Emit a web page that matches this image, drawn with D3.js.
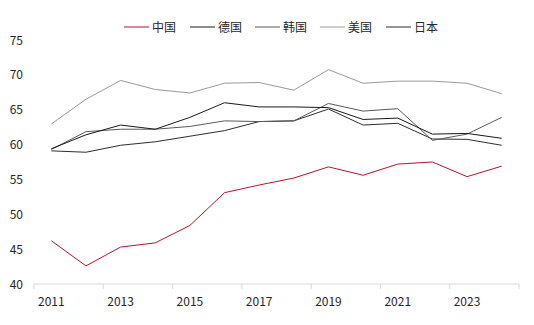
<!DOCTYPE html>
<html><head><meta charset="utf-8">
<script src="https://cdn.jsdelivr.net/npm/d3@7"></script>
<style>body{margin:0;background:#fff}svg{display:block}text{font-family:"Noto Sans CJK SC","Noto Sans",sans-serif}</style>
</head><body><svg id="c" width="534" height="325"></svg>
<script>
const years = [2011,2012,2013,2014,2015,2016,2017,2018,2019,2020,2021,2022,2023,2024];
const yTicks = [40,45,50,55,60,65,70,75];
const xLabels = [2011,2013,2015,2017,2019,2021,2023];
const seriesNames = ["中国","德国","韩国","美国","日本"];
const seriesColors = ["#c0102a","#1a1a1a","#5a5a5a","#9a9a9a","#2e2e2e"];
const china   = [46.2,42.6,45.3,45.9,48.4,53.1,54.2,55.2,56.8,55.6,57.2,57.5,55.4,56.9];
const germany = [59.4,61.4,62.8,62.2,63.9,66.0,65.4,65.4,65.3,63.6,63.8,61.5,61.6,60.9];
const korea   = [59.3,61.85,62.2,62.2,62.6,63.4,63.3,63.4,65.9,64.8,65.15,60.6,61.5,63.9];
const usa     = [62.95,66.5,69.2,67.9,67.4,68.8,68.9,67.8,70.75,68.8,69.1,69.1,68.8,67.3];
const japan   = [59.1,58.9,59.9,60.4,61.2,62.0,63.3,63.4,65.1,62.8,63.05,60.8,60.75,59.9];
const seriesValues = [china,germany,korea,usa,japan];

const svg = d3.select("#c");
const x = d3.scaleBand().domain(years).range([34,519]).padding(0);
const y = d3.scaleLinear().domain([40,75]).range([284,40]);

// x axis
svg.append("line").attr("x1",x.range()[0]).attr("x2",x.range()[1])
  .attr("y1",y(40)).attr("y2",y(40)).attr("stroke","#d9d9d9");
const tickPos = years.filter((d,i)=>i%2===0).map(d=>x(d)).concat([x.range()[1]]);
svg.selectAll(".xt").data(tickPos).join("line")
  .attr("x1",d=>d).attr("x2",d=>d).attr("y1",y(40)).attr("y2",y(40)+5).attr("stroke","#d9d9d9");
svg.selectAll(".xl").data(xLabels).join("text")
  .attr("x",d=>x(d)+x.bandwidth()/2).attr("y",306).attr("text-anchor","middle")
  .attr("font-size",12).attr("fill","#262626").text(d=>d);
// y labels
svg.selectAll(".yl").data(yTicks).join("text")
  .attr("x",23).attr("y",d=>y(d)+4.5).attr("text-anchor","end")
  .attr("font-size",12).attr("fill","#262626").text(d=>d);

const line = d3.line().x((d,i)=>x(years[i])+x.bandwidth()/2).y(d=>y(d));
// draw order: US, Japan, Korea, Germany, China
[3,4,2,1,0].forEach(k=>{
  svg.append("path").attr("d",line(seriesValues[k])).attr("fill","none")
    .attr("stroke",seriesColors[k]).attr("stroke-width",1);
});

// legend
const legX = [124,190,255,320,386];
seriesNames.forEach((n,i)=>{
  svg.append("line").attr("x1",legX[i]).attr("x2",legX[i]+25).attr("y1",27).attr("y2",27)
    .attr("stroke",seriesColors[i]).attr("stroke-width",1);
  svg.append("text").attr("x",legX[i]+28).attr("y",31.5).attr("font-size",12)
    .attr("fill","#262626").text(n);
});
</script></body></html>
